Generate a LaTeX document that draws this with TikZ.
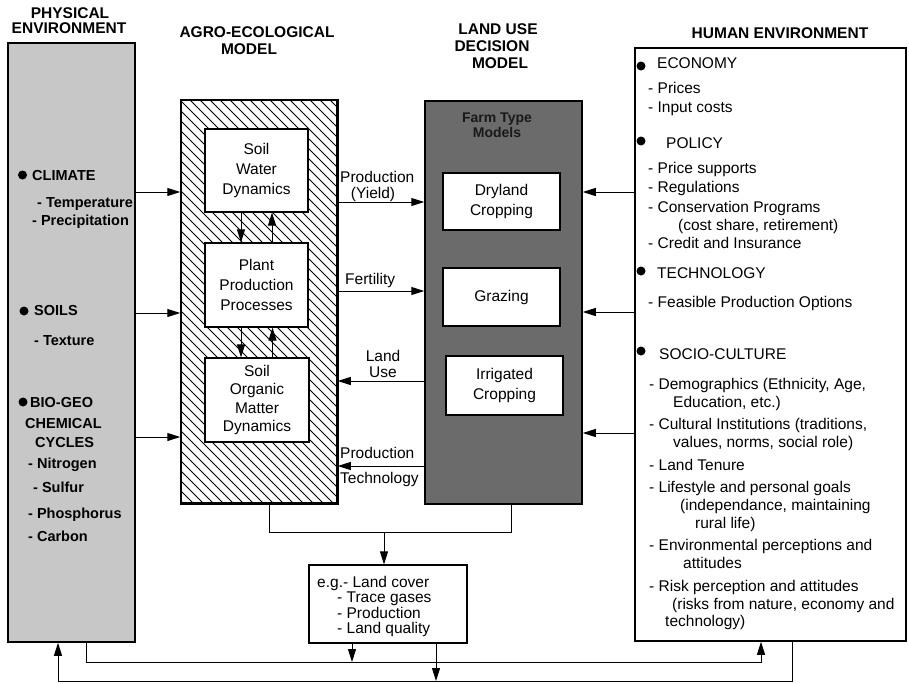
\documentclass[tikz,border=0pt]{standalone}
\usepackage{fontspec}
\setmainfont{Liberation Sans}
\usetikzlibrary{arrows.meta}
\begin{document}
\begin{tikzpicture}[x=1pt,y=-1pt,
  every node/.style={inner sep=0pt},
  box/.style={draw, line width=1.5pt},
  sub/.style={draw, fill=white, line width=1.2pt, align=center, font=\fontsize{15.5}{20}\selectfont},
  hdr/.style={font=\bfseries\fontsize{15.5}{17}\selectfont, text height=11pt, text depth=0pt},
  phy/.style={anchor=west, font=\bfseries\fontsize{14.5}{16}\selectfont, text height=10.4pt, text depth=0pt},
  hum/.style={anchor=west, font=\fontsize{15.5}{17}\selectfont, text height=11pt, text depth=0pt},
  lbl/.style={font=\fontsize{15.5}{17}\selectfont, text height=11pt, text depth=0pt},
  arr/.style={line width=1pt, -{Triangle[length=13pt,width=8pt]}},
  ln/.style={line width=1pt},
  dot/.style={circle, fill=black, minimum size=9pt}
]
\useasboundingbox (0,0) rectangle (909,683);

% headers
\node[hdr] (hp1) at (70,13) {PHYSICAL};
\node[hdr] (hp2) at (69,28) {ENVIRONMENT};
\node[hdr] (ha1) at (257,32) {AGRO-ECOLOGICAL};
\node[hdr] (ha2) at (249,49) {MODEL};
\node[hdr] (hl1) at (498,29) {LAND USE};
\node[hdr] (hl2) at (492,46) {DECISION};
\node[hdr] (hl3) at (500,63) {MODEL};
\node[hdr] (hh) at (780,33) {HUMAN ENVIRONMENT};

% big boxes
\node[box, fill=black!22, minimum width=127pt, minimum height=599pt] (phys) at (71.5,342.5) {};
\node[box, fill=white, minimum width=156pt, minimum height=403pt] (agro) at (259,301.5) {};
\begin{scope}
  \clip (agro.south west) rectangle (agro.north east);
  \foreach \i in {-420,-410,...,340} \draw[line width=0.8pt] (\i,100) -- ++(420,420);
\end{scope}
\draw[box] (agro.south west) rectangle (agro.north east);
\node[box, fill=black!58, minimum width=157pt, minimum height=403pt] (lud) at (503.5,302.5) {};
\node[box, minimum width=271pt, minimum height=593pt] (hum) at (770.5,344.5) {};
\node[box, line width=1.2pt, minimum width=158pt, minimum height=78pt] (out) at (388,604) {};

% agro sub-boxes
\node[sub, minimum width=103pt, minimum height=83pt] (swd) at (256.5,170.5) {Soil\\Water\\Dynamics};
\node[sub, minimum width=103pt, minimum height=84pt] (ppp) at (256.5,285) {Plant\\Production\\Processes};
\node[sub, minimum width=104pt, minimum height=84pt, font=\fontsize{15.5}{18.5}\selectfont] (som) at (257,400) {Soil\\Organic\\Matter\\Dynamics};

% land use sub-boxes
\node[font=\bfseries\fontsize{14}{15}\selectfont, align=center, text=black!90] (ftm) at (497,125) {Farm Type\\Models};
\node[sub, minimum width=117pt, minimum height=57pt] (dry) at (501.5,201.5) {Dryland\\Cropping};
\node[sub, minimum width=117pt, minimum height=58pt] (gra) at (501.5,297) {Grazing};
\node[sub, minimum width=117pt, minimum height=59pt] (irr) at (504.5,385.5) {Irrigated\\Cropping};

% physical environment text
\node[dot] (pb1) at (22.5,175) {};
\node[phy] (pt1) at (32,175) {CLIMATE};
\node[phy] (pt2) at (37,202) {- Temperature};
\node[phy] (pt3) at (32,220) {- Precipitation};
\node[dot] (pb2) at (24,311) {};
\node[phy] (pt4) at (34,310) {SOILS};
\node[phy] (pt5) at (34,340) {- Texture};
\node[dot] (pb3) at (23,402) {};
\node[phy] (pt6) at (30,402) {BIO-GEO};
\node[phy] (pt7) at (25,423) {CHEMICAL};
\node[phy] (pt8) at (35,442) {CYCLES};
\node[phy] (pt9) at (28,463) {- Nitrogen};
\node[phy] (pt10) at (33,487) {- Sulfur};
\node[phy] (pt11) at (28,513) {- Phosphorus};
\node[phy] (pt12) at (28,536) {- Carbon};

% human environment text
\node[dot] (hb1) at (641,66) {};
\node[hum] (h1) at (657,63) {ECONOMY};
\node[hum] (h2) at (648,88) {- Prices};
\node[hum] (h3) at (648,107) {- Input costs};
\node[dot] (hb2) at (641,141) {};
\node[hum] (h4) at (666,143) {POLICY};
\node[hum] (h5) at (648,168) {- Price supports};
\node[hum] (h6) at (648,187) {- Regulations};
\node[hum] (h7) at (648,207) {- Conservation Programs};
\node[hum] (h8) at (678,225) {(cost share, retirement)};
\node[hum] (h9) at (648,243) {- Credit and Insurance};
\node[dot] (hb3) at (641,271) {};
\node[hum] (h10) at (657,273) {TECHNOLOGY};
\node[hum] (h11) at (648,302) {- Feasible Production Options};
\node[dot] (hb4) at (641,351) {};
\node[hum] (h12) at (659,354) {SOCIO-CULTURE};
\node[hum] (h13) at (649,384) {- Demographics (Ethnicity, Age,};
\node[hum] (h14) at (673,402) {Education, etc.)};
\node[hum] (h15) at (649,424) {- Cultural Institutions (traditions,};
\node[hum] (h16) at (673,442) {values, norms, social role)};
\node[hum] (h17) at (649,465) {- Land Tenure};
\node[hum] (h18) at (649,487) {- Lifestyle and personal goals};
\node[hum] (h19) at (680,505) {(independance, maintaining};
\node[hum] (h20) at (695,523) {rural life)};
\node[hum] (h21) at (649,545) {- Environmental perceptions and};
\node[hum] (h22) at (683,563) {attitudes};
\node[hum] (h23) at (649,586) {- Risk perception and attitudes};
\node[hum] (h24) at (672,604) {(risks from nature, economy and};
\node[hum] (h25) at (665,621) {technology)};

% outcome text
\node[lbl, anchor=west] (o_t1) at (317,582) {e.g.- Land cover};
\node[lbl, anchor=west] (o_t2) at (337,597) {- Trace gases};
\node[lbl, anchor=west] (o_t3) at (337,613) {- Production};
\node[lbl, anchor=west] (o_t4) at (337,628) {- Land quality};

% connector labels
\node[lbl, anchor=west] (l1) at (340,177) {Production};
\node[lbl] (l2) at (373,193) {(Yield)};
\node[lbl, anchor=west] (l3) at (345,279) {Fertility};
\node[lbl] (l4) at (383,356) {Land};
\node[lbl] (l5) at (383,372) {Use};
\node[lbl, anchor=west] (l6) at (340,453) {Production};
\node[lbl, anchor=west] (l7) at (340,478) {Technology};

% level coordinates
\coordinate (y1) at (0,192);
\coordinate (y2) at (0,313);
\coordinate (y3) at (0,437);
\coordinate (y4) at (0,202);
\coordinate (y5) at (0,291);
\coordinate (y6) at (0,381);
\coordinate (y7) at (0,466);
\coordinate (y8) at (0,192);
\coordinate (y9) at (0,312);
\coordinate (y10) at (0,433);

% physical -> agro
\draw[arr] (phys.east |- y1) -- (agro.west |- y1);
\draw[arr] (phys.east |- y2) -- (agro.west |- y2);
\draw[arr] (phys.east |- y3) -- (agro.west |- y3);
% agro <-> land use
\draw[arr] (agro.east |- y4) -- (lud.west |- y4);
\draw[arr] (agro.east |- y5) -- (lud.west |- y5);
\draw[arr] (lud.west |- y6) -- (agro.east |- y6);
\draw[arr] (lud.west |- y7) -- (agro.east |- y7);
% human -> land use
\draw[arr] (hum.west |- y8) -- (lud.east |- y8);
\draw[arr] (hum.west |- y9) -- (lud.east |- y9);
\draw[arr] (hum.west |- y10) -- (lud.east |- y10);

% inner agro arrows
\coordinate (s1) at ([xshift=-15.5pt]swd.south);
\coordinate (s2) at ([xshift=15.5pt]ppp.north);
\coordinate (s3) at ([xshift=-15.5pt]ppp.south);
\coordinate (s4) at ([xshift=15.5pt]som.north);
\draw[arr] (s1) -- (s1 |- ppp.north);
\draw[arr] (s2) -- (s2 |- swd.south);
\draw[arr] (s3) -- (s3 |- som.north);
\draw[arr] (s4) -- (s4 |- ppp.south);

% models -> outcome
\coordinate (jn) at (384,532);
\draw[ln] ([xshift=10pt]agro.south) |- (jn) -| ([xshift=7.5pt]lud.south);
\draw[arr] (jn) -- (jn |- out.north);

% feedback lines
\coordinate (la) at (0,662);
\coordinate (lb) at (0,681);
\coordinate (o1) at ([xshift=-36pt]out.south);
\coordinate (o2) at ([xshift=48pt]out.south);
\draw[arr] (o1) -- (o1 |- la);
\draw[arr] (o2) -- (o2 |- lb);
\coordinate (a1) at ([xshift=14.5pt]phys.south);
\coordinate (a2) at ([xshift=-9.5pt]hum.south);
\draw[arr] (a1) -- (a1 |- la) -| (a2);
\coordinate (c1) at ([xshift=21.5pt]hum.south);
\coordinate (c2) at ([xshift=-13.5pt]phys.south);
\draw[arr] (c1) -- (c1 |- lb) -| (c2);
\end{tikzpicture}
\end{document}
